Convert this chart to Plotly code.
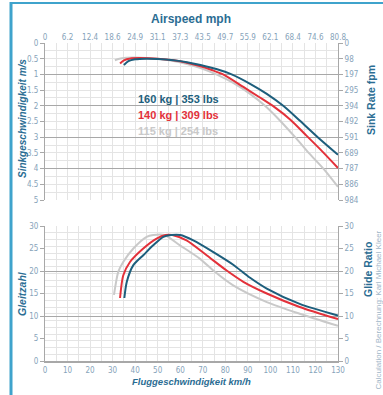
import plotly.graph_objects as go

# ---------------- data ----------------
# Sink rate (m/s) vs airspeed (km/h)
sink_v_160 = [35, 37, 40, 45, 50, 57, 63, 69, 76, 82.8, 91, 98.4, 105.7, 113, 121, 130]
sink_s_160 = [0.70, 0.58, 0.52, 0.50, 0.51, 0.55, 0.61, 0.70, 0.83, 1.00, 1.30, 1.62, 2.00, 2.47, 3.00, 3.56]
sink_v_140 = [33.3, 35, 38, 42, 50, 57, 63, 69, 74, 79, 88, 95, 102, 109, 116, 123, 130]
sink_s_140 = [0.65, 0.55, 0.49, 0.48, 0.50, 0.55, 0.63, 0.74, 0.86, 1.00, 1.40, 1.72, 2.05, 2.45, 2.95, 3.45, 3.98]
sink_v_115 = [31, 33, 36, 40, 50, 57, 63, 69, 76, 83.5, 91, 97.6, 104, 111, 117, 123.5, 130]
sink_s_115 = [0.55, 0.50, 0.47, 0.46, 0.50, 0.57, 0.67, 0.80, 1.00, 1.27, 1.62, 2.00, 2.45, 3.00, 3.50, 4.00, 4.58]

# Glide ratio vs airspeed (km/h)
glide_v_160 = [35.2, 36.3, 39.2, 43.6, 48, 52.5, 56, 60, 65.8, 74.7, 83.5, 91, 98.4, 113, 130]
glide_g_160 = [14, 17.6, 21.3, 23.5, 25.7, 27.6, 28, 28, 26.8, 24.2, 21.4, 18.5, 16.1, 12.7, 10.1]
glide_v_140 = [33.3, 34.7, 37.7, 43.6, 49.5, 53.5, 56.5, 62.8, 71.7, 80.6, 88, 98.4, 113, 130]
glide_g_140 = [14, 19, 22, 25, 27.2, 28, 28, 26.8, 23.5, 20.1, 17.6, 15, 12, 9.3]
glide_v_115 = [30.6, 32.5, 34.7, 39.2, 45.1, 48, 53, 59.9, 68.8, 74.7, 83.5, 98.4, 113, 130]
glide_g_115 = [14.7, 19.8, 22, 25, 27.6, 28, 28, 25.7, 22.7, 20.1, 16.8, 13.1, 10.5, 7.8]

kmh_ticks = [0, 10, 20, 30, 40, 50, 60, 70, 80, 90, 100, 110, 120, 130]
mph_labels = ["0", "6.2", "12.4", "18.6", "24.9", "31.1", "37.3", "43.5", "49.7", "55.9", "62.1", "68.4", "74.6", "80.8"]
sink_ticks = [0, 0.5, 1, 1.5, 2, 2.5, 3, 3.5, 4, 4.5, 5]
sink_labels = ["0", "0.5", "1", "1.5", "2", "2.5", "3", "3.5", "4", "4.5", "5"]
fpm_labels = ["0", "98", "197", "295", "394", "492", "591", "689", "787", "886", "984"]
glide_ticks = [0, 5, 10, 15, 20, 25, 30]

series_names = ["115 kg | 254 lbs", "140 kg | 309 lbs", "160 kg | 353 lbs"]
colors = {"160 kg | 353 lbs": "#1d5e7c", "140 kg | 309 lbs": "#e3313a", "115 kg | 254 lbs": "#c9c9c9"}

# ---------------- figure ----------------
FONT = "DejaVu Sans Condensed, Liberation Sans Narrow, Liberation Sans, Arial, sans-serif"
TFONT = "Liberation Sans Narrow, Liberation Sans, Arial, sans-serif"
TICKC = "#86a3ba"
TITLEC = "#2b6d93"
LIGHT = "#e4e4e4"
DARK = "#a8a8a8"

fig = go.Figure()
sink_data = {"115 kg | 254 lbs": (sink_v_115, sink_s_115),
             "140 kg | 309 lbs": (sink_v_140, sink_s_140),
             "160 kg | 353 lbs": (sink_v_160, sink_s_160)}
glide_data = {"115 kg | 254 lbs": (glide_v_115, glide_g_115),
              "140 kg | 309 lbs": (glide_v_140, glide_g_140),
              "160 kg | 353 lbs": (glide_v_160, glide_g_160)}

# invisible helper traces so the secondary axes (right labels / dark grid) are drawn
for ya in ["y2", "y5"]:
    fig.add_trace(go.Scatter(x=sink_v_160, y=sink_s_160, mode="lines", xaxis="x", yaxis=ya,
                             line=dict(width=0, color="rgba(0,0,0,0)"), hoverinfo="skip", showlegend=False))
for ya in ["y4", "y6"]:
    fig.add_trace(go.Scatter(x=glide_v_160, y=glide_g_160, mode="lines", xaxis="x2", yaxis=ya,
                             line=dict(width=0, color="rgba(0,0,0,0)"), hoverinfo="skip", showlegend=False))

for name in series_names:
    v, s = sink_data[name]
    fig.add_trace(go.Scatter(x=v, y=s, mode="lines", name=name, xaxis="x", yaxis="y",
                             line=dict(color=colors[name], width=2, shape="spline", smoothing=0.8),
                             showlegend=False))
for name in series_names:
    v, g = glide_data[name]
    fig.add_trace(go.Scatter(x=v, y=g, mode="lines", name=name, xaxis="x2", yaxis="y3",
                             line=dict(color=colors[name], width=2, shape="spline", smoothing=0.7),
                             showlegend=False))

tickfont = dict(family=FONT, size=8, color=TICKC)
top_dom = [1 - 157 / 318, 1]
bot_dom = [0, 135 / 318]

fig.update_layout(
    width=383, height=395,
    margin=dict(l=45, r=45, t=43, b=34),
    paper_bgcolor="white", plot_bgcolor="white",
    font=dict(family=TFONT),
    xaxis=dict(domain=[0, 1], anchor="y", range=[0, 130], side="top",
               tickmode="array", tickvals=kmh_ticks, ticktext=mph_labels,
               tickfont=tickfont, ticks="", showgrid=True, gridcolor=LIGHT, gridwidth=1,
               minor=dict(dtick=5, tick0=0, showgrid=True, gridcolor=LIGHT),
               showline=False, zeroline=False),
    yaxis=dict(domain=top_dom, anchor="x", range=[5, 0],
               tickmode="array", tickvals=sink_ticks, ticktext=sink_labels,
               tickfont=tickfont, ticks="outside", ticklen=4, tickcolor=DARK,
               showgrid=False, minor=dict(dtick=0.25, tick0=0, showgrid=True, gridcolor=LIGHT),
               showline=True, linecolor=DARK, zeroline=False),
    yaxis2=dict(domain=top_dom, anchor="x", overlaying="y", side="right", range=[5, 0],
                tickmode="array", tickvals=sink_ticks, ticktext=fpm_labels,
                tickfont=tickfont, ticks="outside", ticklen=4, tickcolor=DARK,
                showgrid=False, showline=True, linecolor=DARK, zeroline=False),
    yaxis5=dict(domain=top_dom, anchor="x", overlaying="y", range=[5, 0],
                tickmode="array", tickvals=[0, 1, 2, 3, 4, 5], showticklabels=False, ticks="",
                showgrid=True, gridcolor=DARK, gridwidth=1, zeroline=False),
    xaxis2=dict(domain=[0, 1], anchor="y3", range=[0, 130],
                tickmode="array", tickvals=kmh_ticks, tickfont=tickfont, ticks="",
                showgrid=True, gridcolor=LIGHT,
                minor=dict(dtick=5, tick0=0, showgrid=True, gridcolor=LIGHT),
                showline=True, linecolor=DARK, linewidth=2, zeroline=False),
    yaxis3=dict(domain=bot_dom, anchor="x2", range=[0, 30],
                tickmode="array", tickvals=glide_ticks,
                tickfont=tickfont, ticks="outside", ticklen=4, tickcolor=DARK,
                showgrid=False, minor=dict(dtick=1.5, tick0=0, showgrid=True, gridcolor=LIGHT),
                showline=True, linecolor=DARK, zeroline=False),
    yaxis4=dict(domain=bot_dom, anchor="x2", overlaying="y3", side="right", range=[0, 30],
                tickmode="array", tickvals=glide_ticks,
                tickfont=tickfont, ticks="outside", ticklen=4, tickcolor=DARK,
                showgrid=False, showline=True, linecolor=DARK, zeroline=False),
    yaxis6=dict(domain=bot_dom, anchor="x2", overlaying="y3", range=[0, 30],
                tickmode="array", tickvals=[10, 20, 30], showticklabels=False, ticks="",
                showgrid=True, gridcolor=DARK, zeroline=False),
)

def px2x(px):
    return (px - 45) / 293

def py2y(py):
    return (361 - py) / 318

ann = []
ann.append(dict(text="<b>Airspeed mph</b>", x=px2x(191), y=py2y(19), font=dict(size=12, color=TITLEC)))
ann.append(dict(text="<b><i>Sinkgeschwindigkeit m/s</i></b>", x=px2x(23), y=py2y(119), textangle=-90,
                font=dict(size=10, color=TITLEC)))
ann.append(dict(text="<b>Sink Rate fpm</b>", x=px2x(371), y=py2y(100), textangle=-90,
                font=dict(size=10.5, color=TITLEC)))
ann.append(dict(text="<b><i>Gleitzahl</i></b>", x=px2x(22), y=py2y(294), textangle=-90,
                font=dict(size=10.5, color=TITLEC)))
ann.append(dict(text="<b>Glide Ratio</b>", x=px2x(368), y=py2y(270), textangle=-90,
                font=dict(size=10.5, color=TITLEC)))
ann.append(dict(text="<b><i>Fluggeschwindigkeit km/h</i></b>", x=px2x(191), y=py2y(381),
                font=dict(size=9.5, color=TITLEC)))
ann.append(dict(text="Calculation / Berechnung: Karl Michael Kleer", x=px2x(377.5), y=py2y(310), textangle=-90,
                font=dict(size=8, color="#9fb6c8")))
for a in ann:
    a.update(xref="paper", yref="paper", showarrow=False, xanchor="center", yanchor="middle")

label_y = {"160 kg | 353 lbs": 1.78, "140 kg | 309 lbs": 2.29, "115 kg | 254 lbs": 2.80}
for name in series_names:
    ann.append(dict(text="<b>" + name + "</b>", x=40.4, y=label_y[name], xref="x", yref="y",
                    xanchor="left", yanchor="middle", showarrow=False,
                    font=dict(size=11, color=colors[name])))
fig.update_layout(annotations=ann)

FRAME = "#3fa3cc"
fig.add_shape(type="line", xref="paper", yref="paper", x0=px2x(11), x1=px2x(11), y0=py2y(2), y1=py2y(400),
              line=dict(color=FRAME, width=3))
fig.add_shape(type="line", xref="paper", yref="paper", x0=px2x(10), x1=px2x(390), y0=py2y(3), y1=py2y(3),
              line=dict(color=FRAME, width=2))

fig.write_html("out.html", config={"displayModeBar": False},
               post_script="document.body.style.margin='0px';")
